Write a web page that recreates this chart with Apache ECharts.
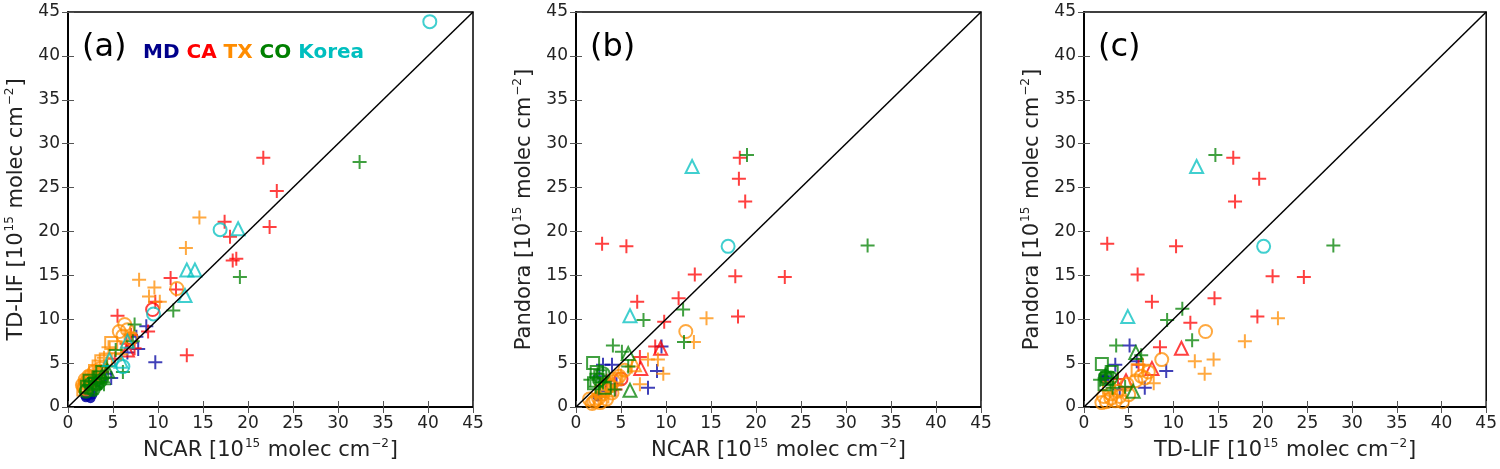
<!DOCTYPE html>
<html>
<head>
<meta charset="utf-8">
<script src="https://cdn.jsdelivr.net/npm/echarts@6/dist/echarts.min.js"></script>
<style>
html, body { margin: 0; padding: 0; background: #fff; }
#chart { width: 1500px; height: 469px; }
</style>
</head>
<body>
<div id="chart"></div>
<script>
// axis range, same for every panel
const axisMin = 0
const axisMax = 45
const axisStep = 5

const states = ['MD', 'CA', 'TX', 'CO', 'Korea']
const panelLabels = ['(a)', '(b)', '(c)']
const xNames = ['NCAR', 'NCAR', 'TD-LIF']
const yNames = ['TD-LIF', 'Pandora', 'Pandora']
const oneToOne = [[0, 0], [45, 45]]

// points: [x, y, marker]   + plus, o circle, ^ triangle, s square, . filled dot
// (a) TD-LIF vs NCAR
const aMD = [[2.0, 1.1, '.'], [2.2, 1.3, '.'], [2.5, 1.0, '.'], [2.7, 1.4, '.'], [2.3, 1.6, '.'], [1.9, 1.3, '.'],
    [9.7, 5.1, '+'], [8.7, 9.2, '+'], [7.8, 6.6, '+'], [4.8, 3.3, '+'], [3.5, 3.0, '+'], [4.2, 3.8, '+'], [6.6, 6.2, '+'], [2.8, 2.4, '+'], [7.6, 8.0, '+']]
const aCA = [[21.7, 28.4, '+'], [23.2, 24.6, '+'], [17.4, 21.1, '+'], [22.4, 20.5, '+'], [18.0, 19.4, '+'], [18.3, 16.7, '+'], [18.7, 16.9, '+'],
    [11.4, 14.7, '+'], [12.0, 13.4, '+'], [9.7, 12.0, '+'], [5.5, 10.4, '+'], [13.2, 5.9, '+'], [8.9, 8.6, '+'], [7.4, 6.7, '+'], [6.5, 7.2, '+'],
    [3.8, 4.0, '+'], [5.2, 5.5, '+'], [2.6, 2.9, '+'], [7.0, 8.2, '+'], [9.4, 11.1, 'o'], [6.6, 6.5, '^']]
const aTX = [[14.6, 21.6, '+'], [13.1, 18.1, '+'], [7.9, 14.5, '+'], [9.6, 13.6, '+'], [9.0, 12.6, '+'], [4.5, 6.8, '+'], [5.9, 6.0, '+'],
    [3.3, 3.9, '+'], [6.9, 8.4, '+'], [10.2, 12.0, '+'], [2.4, 3.6, '+'], [4.0, 5.6, '+'],
    [12.1, 13.5, 'o'], [6.3, 9.4, 'o'], [6.6, 8.8, 'o'], [6.1, 8.1, 'o'], [7.0, 7.8, 'o'], [2.0, 2.8, 'o'], [2.6, 3.1, 'o'], [3.3, 3.6, 'o'], [1.8, 2.2, 'o'], [5.7, 8.6, 'o'],
    [1.6, 2.5, 'o'], [2.3, 3.5, 'o'], [2.9, 4.0, 'o'], [1.9, 3.1, 'o'], [3.6, 4.4, 'o'],
    [4.8, 7.3, 's'], [3.7, 5.2, 's'], [5.3, 6.8, 's'], [2.6, 3.4, 's'], [3.0, 4.1, 's'], [2.2, 2.7, 's'], [4.2, 5.4, 's'], [1.7, 2.0, 's'], [3.4, 4.6, 's'], [1.9, 2.4, 's']]
const aCO = [[32.4, 27.9, '+'], [19.1, 14.8, '+'], [11.7, 11.0, '+'], [7.4, 9.4, '+'], [5.3, 6.5, '+'], [6.1, 4.0, '+'], [4.3, 4.6, '+'],
    [3.5, 2.8, '+'], [2.9, 3.3, '+'], [2.3, 2.5, '+'], [7.2, 7.5, '+'], [3.8, 3.2, '+'], [4.0, 2.6, '+'], [3.1, 2.1, '+'],
    [2.6, 2.2, 's'], [3.0, 2.7, 's'], [2.1, 2.3, 's'], [3.4, 3.4, 's'], [2.4, 3.0, 's'], [3.8, 4.0, 's'],
    [2.8, 2.0, 'o'], [3.2, 2.6, 'o'], [2.0, 1.8, 'o'], [3.6, 3.0, 'o'], [2.5, 2.6, 'o'], [4.4, 4.1, '^'], [3.8, 3.6, '^']]
const aKorea = [[40.2, 43.9, 'o'], [16.9, 20.2, 'o'], [9.5, 10.6, 'o'], [6.1, 4.6, 'o'],
    [18.9, 20.3, '^'], [13.2, 15.6, '^'], [14.1, 15.6, '^'], [13.0, 12.7, '^'], [6.6, 7.5, '^'], [5.9, 5.2, '^'], [4.6, 5.4, '^']]

// (b) Pandora vs NCAR
const bMD = [[9.5, 6.9, '+'], [9.0, 4.1, '+'], [8.0, 2.2, '+'], [3.0, 4.8, '+'], [4.0, 4.8, '+'], [3.3, 1.8, '+'], [4.5, 2.6, '+'], [2.6, 3.5, '+'], [2.4, 1.2, '.']]
const bCA = [[18.2, 28.4, '+'], [18.1, 26.0, '+'], [18.8, 23.4, '+'], [2.9, 18.6, '+'], [5.6, 18.3, '+'], [13.2, 15.1, '+'], [17.7, 14.9, '+'],
    [23.2, 14.8, '+'], [11.4, 12.4, '+'], [6.8, 12.0, '+'], [9.8, 9.7, '+'], [18.0, 10.3, '+'], [8.8, 6.9, '+'], [7.1, 5.7, '+'], [4.4, 2.0, '+'], [3.4, 3.0, '+'],
    [9.4, 6.7, '^'], [7.2, 4.4, '^'], [5.0, 3.2, 'o']]
const bTX = [[14.5, 10.1, '+'], [13.1, 7.4, '+'], [8.0, 5.4, '+'], [9.1, 5.4, '+'], [9.7, 3.8, '+'], [7.1, 2.6, '+'], [6.2, 4.6, '+'], [5.0, 3.6, '+'], [3.6, 1.2, '+'],
    [12.2, 8.6, 'o'], [4.8, 3.5, 'o'], [4.2, 2.9, 'o'], [3.3, 2.0, 'o'], [2.5, 1.0, 'o'], [2.0, 0.6, 'o'], [1.8, 0.4, 'o'], [3.0, 1.5, 'o'], [2.2, 0.8, 'o'], [3.8, 2.4, 'o'], [5.4, 4.2, 'o'],
    [2.7, 0.5, 'o'], [3.4, 0.9, 'o'], [1.5, 0.9, 'o'], [4.0, 1.6, 'o'],
    [2.8, 1.8, 's'], [3.5, 2.6, 's'], [4.5, 3.2, 's'], [6.5, 4.8, '^']]
const bCO = [[19.0, 28.7, '+'], [32.4, 18.4, '+'], [11.9, 11.1, '+'], [7.5, 9.9, '+'], [12.0, 7.4, '+'], [4.1, 7.0, '+'], [5.1, 6.3, '+'], [5.8, 4.6, '+'],
    [1.6, 3.1, '+'], [2.4, 3.8, '+'], [3.0, 2.8, '+'], [4.3, 2.0, '+'], [2.2, 2.3, '+'],
    [5.8, 6.1, '^'], [6.0, 1.9, '^'], [1.9, 5.0, 's'], [2.3, 4.0, 's'], [2.7, 3.5, 's'], [3.2, 2.2, 's'], [2.0, 2.7, 's'], [2.6, 3.1, 'o'], [3.0, 3.8, 'o']]
const bKorea = [[12.9, 27.4, '^'], [6.0, 10.4, '^'], [16.9, 18.3, 'o']]

// (c) Pandora vs TD-LIF
const cMD = [[5.1, 7.0, '+'], [5.9, 5.2, '+'], [9.2, 4.1, '+'], [6.8, 2.2, '+'], [3.5, 4.8, '+'], [2.4, 3.5, '+'], [4.0, 2.0, '+'], [2.3, 3.2, '.']]
const cCA = [[16.7, 28.4, '+'], [19.6, 26.0, '+'], [16.9, 23.4, '+'], [2.6, 18.6, '+'], [10.3, 18.3, '+'], [6.0, 15.1, '+'], [21.1, 14.9, '+'],
    [24.6, 14.8, '+'], [14.6, 12.4, '+'], [7.6, 12.0, '+'], [11.9, 9.6, '+'], [19.4, 10.3, '+'], [8.5, 6.8, '+'], [6.1, 4.8, '+'], [3.8, 3.2, '+'],
    [10.9, 6.7, '^'], [7.6, 4.4, '^'], [4.7, 3.0, '^']]
const cTX = [[21.7, 10.1, '+'], [18.0, 7.5, '+'], [12.4, 5.2, '+'], [14.5, 5.4, '+'], [13.5, 3.8, '+'], [7.8, 2.7, '+'], [6.6, 4.8, '+'],
    [13.6, 8.6, 'o'], [8.7, 5.4, 'o'], [7.2, 4.0, 'o'], [6.4, 3.5, 'o'], [5.8, 3.0, 'o'], [4.8, 2.6, 'o'], [3.0, 1.0, 'o'], [2.5, 0.6, 'o'],
    [3.5, 0.7, 'o'], [4.0, 1.2, 'o'], [2.2, 1.2, 'o'], [3.0, 1.5, 'o'], [5.0, 1.4, 'o'], [4.3, 0.6, 'o'], [2.0, 0.5, 'o'], [3.8, 1.8, 'o'],
    [6.8, 3.3, 'o'], [2.8, 2.2, 's'], [6.0, 4.2, 's']]
const cCO = [[14.7, 28.7, '+'], [27.9, 18.4, '+'], [11.0, 11.2, '+'], [9.3, 9.9, '+'], [12.1, 7.6, '+'], [3.6, 7.0, '+'], [6.4, 5.9, '+'],
    [1.8, 3.1, '+'], [2.4, 3.7, '+'], [3.2, 2.2, '+'], [4.6, 2.3, '+'], [2.6, 4.0, '+'],
    [5.8, 6.2, '^'], [5.5, 1.8, '^'], [2.0, 4.9, 's'], [2.6, 3.2, 's'], [3.1, 4.0, 's'], [2.3, 2.6, 's'], [2.4, 3.4, 'o'], [3.0, 3.3, 'o']]
const cKorea = [[12.6, 27.4, '^'], [4.9, 10.3, '^'], [20.1, 18.3, 'o']]

const panelData = [
    [aMD, aCA, aTX, aCO, aKorea],
    [bMD, bCA, bTX, bCO, bKorea],
    [cMD, cCA, cTX, cCO, cKorea],
]

// styles
const stateColors = ['#0000a0', '#ff0000', '#ff8c00', '#008000', '#00bfbf']
const labelColors = ['#00008b', '#ff0000', '#ff8c00', '#008000', '#00bfbf']
const symbols = {
    '+': 'path://M7,0V14M0,7H14',
    'o': 'circle',
    '^': 'triangle',
    's': 'rect',
    '.': 'circle',
}
const symbolSizes = { '+': 14, 'o': 13, '^': 13, 's': 12, '.': 10 }
const gridLefts = [68, 576, 1084]
const font = 'DejaVu Sans'

const chart = echarts.init(document.getElementById('chart'))

const grid = gridLefts.map(l => ({
    left: l, top: 12, width: 405, height: 395,
    show: true, borderColor: '#000', borderWidth: 1.5, backgroundColor: '#fff',
}))

function axisName(main) {
    return '{n|' + main + ' [10}{s|15}{n| molec cm}{s|−2}{n|]}'
}
const nameRich = {
    n: { fontSize: 21, fontFamily: font, color: '#222', lineHeight: 26 },
    s: { fontSize: 12, fontFamily: font, color: '#222', verticalAlign: 'top', padding: [0, 1, 0, 1], lineHeight: 14 },
}

const xAxis = []
const yAxis = []
for (let i = 0; i < 3; i++) {
    const base = {
        gridIndex: i, type: 'value', min: axisMin, max: axisMax, interval: axisStep,
        axisLine: { show: true, lineStyle: { color: '#000', width: 1.5 } },
        axisTick: { show: true, inside: true, length: 6, lineStyle: { color: '#555', width: 1 } },
        splitLine: { show: false },
    }
    xAxis.push(Object.assign({}, base, {
        position: 'bottom',
        axisLabel: { fontSize: 17, fontFamily: font, color: '#222', margin: 8 },
        name: axisName(xNames[i]), nameLocation: 'middle', nameGap: 31,
        nameTextStyle: { rich: nameRich },
    }))
    xAxis.push(Object.assign({}, base, { position: 'top', axisLabel: { show: false } }))
    yAxis.push(Object.assign({}, base, {
        position: 'left',
        axisLabel: { fontSize: 17, fontFamily: font, color: '#222', margin: 8 },
        name: axisName(yNames[i]), nameLocation: 'middle', nameGap: 38,
        nameTextStyle: { rich: nameRich },
    }))
    yAxis.push(Object.assign({}, base, { position: 'right', axisLabel: { show: false } }))
}

const series = []
panelData.forEach((sets, p) => {
    sets.forEach((pts, s) => {
        ['.', 's', 'o', '^', '+'].forEach(m => {
            const d = pts.filter(q => q[2] === m).map(q => [q[0], q[1]])
            if (!d.length) return
            const filled = m === '.'
            series.push({
                type: 'scatter', name: states[s],
                xAxisIndex: p * 2, yAxisIndex: p * 2,
                data: d, silent: true,
                symbol: symbols[m], symbolSize: symbolSizes[m],
                itemStyle: filled
                    ? { color: stateColors[s], opacity: 0.85 }
                    : { color: 'rgba(0,0,0,0)', borderColor: stateColors[s], borderWidth: 2, opacity: 0.75 },
            })
        })
    })
    series.push({
        type: 'line', xAxisIndex: p * 2, yAxisIndex: p * 2,
        data: oneToOne, symbol: 'none', silent: true, z: 5,
        lineStyle: { color: '#000', width: 1.5 },
    })
})

const graphic = []
const labelX = [82, 590, 1098]
panelLabels.forEach((t, i) => {
    graphic.push({
        type: 'text', left: labelX[i], top: 32,
        style: { text: t, fontSize: 32, fontFamily: font, fill: '#000' },
    })
})
graphic.push({
    type: 'text', left: 143, top: 43,
    style: {
        text: states.map((s, i) => '{s' + i + '|' + s + '}').join(' '),
        fontSize: 20, fontWeight: 'bold', fontFamily: font,
        rich: Object.fromEntries(labelColors.map((c, i) => ['s' + i, { fill: c, fontSize: 20, fontWeight: 'bold', fontFamily: font }])),
    },
})

chart.setOption({
    animation: false,
    backgroundColor: '#fff',
    grid, xAxis, yAxis, series, graphic,
})
</script>
</body>
</html>
